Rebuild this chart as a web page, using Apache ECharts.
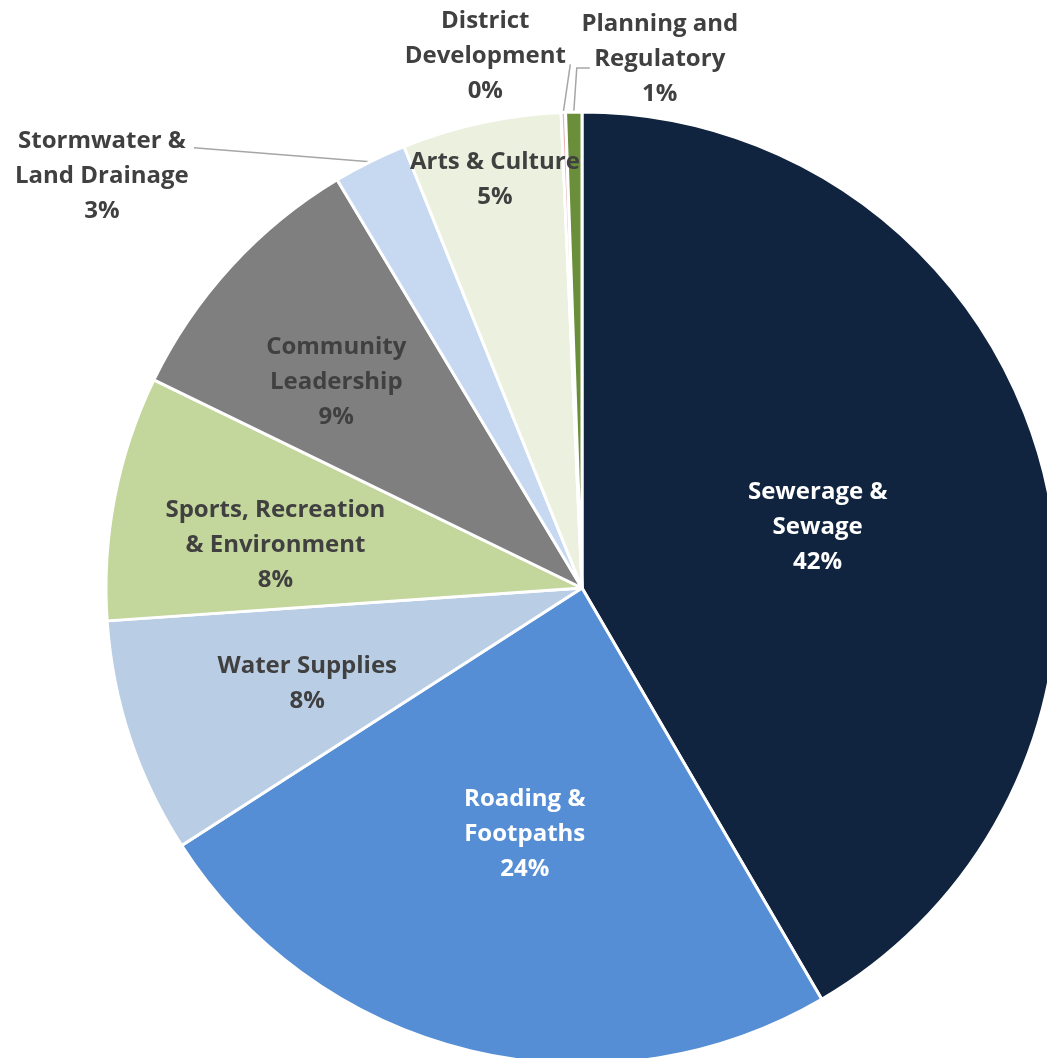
<!DOCTYPE html>
<html><head><meta charset="utf-8">
<script src="https://cdn.jsdelivr.net/npm/echarts@6/dist/echarts.min.js"></script>
<style>html,body{margin:0;padding:0;background:#fff}#chart{width:1047px;height:1058px}</style>
</head><body><div id="chart"></div>
<script>
// ---- data ----
const categories = ['Sewerage &\nSewage', 'Roading &\nFootpaths', 'Water Supplies', 'Sports, Recreation\n& Environment', 'Community\nLeadership', 'Stormwater &\nLand Drainage', 'Arts & Culture', 'District\nDevelopment', 'Planning and\nRegulatory'];
const shares = [41.6, 24.3, 8.0, 8.3, 9.2, 2.5, 5.4, 0.15, 0.55];

// ---- styles ----
const sliceColors = ['#11243F', '#558ED5', '#B9CDE5', '#C3D69B', '#7F7F7F', '#C6D9F1', '#EBF1DE', '#E6B9B8', '#6B8E3A'];
const labelColors = ['#FFFFFF', '#FFFFFF', '#404040', '#404040', '#404040', '#404040', '#404040', '#404040', '#404040'];
const isOuter = [false, false, false, false, false, true, false, true, true];
const insideOffsets = [[3, 2], [-1, 12], [-46, 20], [-70, 3], [-68, -43], null, [-36, -173], null, null];
const outerLabelOffsets = {5: [-268, 14], 7: [-78, -56], 8: [86, -53]};
const outerLineOffsets = {5: [[-176, -14]], 7: [[7, -48]], 8: [[3, -44], [16, -44]]};
const CX = 582, CY = 588, R = 476;

const total = shares.reduce((a, b) => a + b, 0);
const midAngles = [];
{ let acc = 0; shares.forEach(v => { midAngles.push((acc + v / 2) / total * 2 * Math.PI); acc += v; }); }

const chart = echarts.init(document.getElementById('chart'), null, {renderer: 'canvas'});
chart.setOption({
  animation: false,
  backgroundColor: '#ffffff',
  series: [{
    type: 'pie',
    center: [CX, CY],
    radius: [0, R],
    startAngle: 90,
    clockwise: true,
    avoidLabelOverlap: false,
    percentPrecision: 0,
    itemStyle: {borderColor: '#ffffff', borderWidth: 3},
    label: {
      show: true,
      position: 'outside',
      formatter: '{b}\n{d}%',
      fontFamily: 'Open Sans',
      fontWeight: 'bold',
      fontSize: 24,
      lineHeight: 35,
      color: '#404040'
    },
    labelLine: {show: true, length: 10, length2: 10, lineStyle: {color: '#A6A6A6', width: 1.5}},
    data: categories.map((name, i) => ({
      name: name,
      value: shares[i],
      itemStyle: {color: sliceColors[i]},
      label: {position: isOuter[i] ? 'outside' : 'inside', color: labelColors[i]},
      labelLine: {show: isOuter[i]}
    })),
    labelLayout: function (p) {
      const i = p.dataIndex;
      if (!isOuter[i]) {
        const off = insideOffsets[i] || [0, 0];
        return {
          x: p.labelRect.x + p.labelRect.width / 2 + off[0],
          y: p.labelRect.y + p.labelRect.height / 2 + off[1],
          align: 'center', verticalAlign: 'middle'
        };
      }
      const a = midAngles[i];
      const p0 = [CX + R * Math.sin(a), CY - R * Math.cos(a)];
      const lo = outerLabelOffsets[i];
      const pts = [p0].concat(outerLineOffsets[i].map(o => [p0[0] + o[0], p0[1] + o[1]]));
      return {
        x: p0[0] + lo[0], y: p0[1] + lo[1],
        align: 'center', verticalAlign: 'middle',
        labelLinePoints: pts
      };
    }
  }]
});
</script>
</body></html>
